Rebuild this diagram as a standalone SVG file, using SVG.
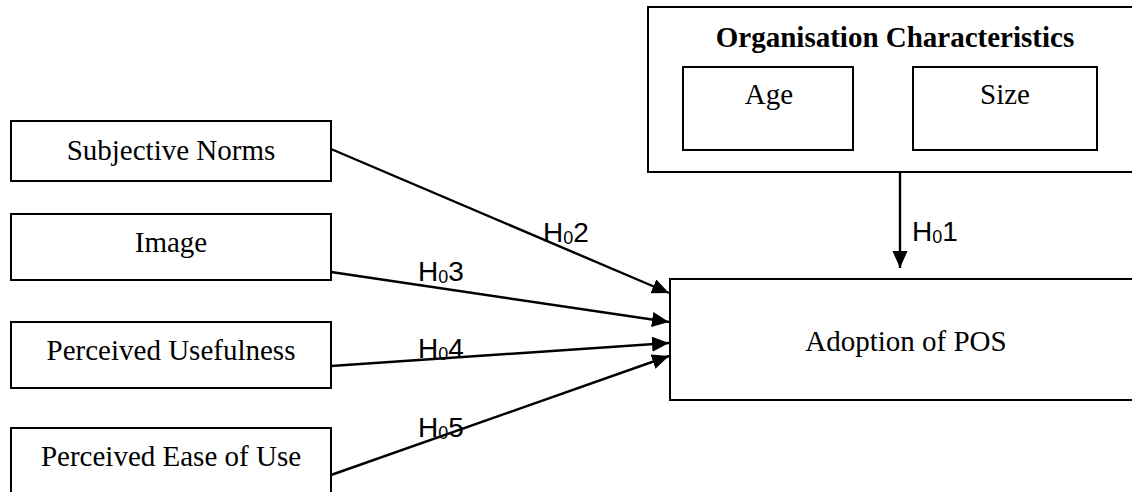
<svg xmlns="http://www.w3.org/2000/svg" width="1132" height="492" viewBox="0 0 1132 492">
<style>
.box{fill:#fff;stroke:#000;stroke-width:2}
.lbl{font-family:"Liberation Serif","Times New Roman",serif;font-size:29px;fill:#000;text-anchor:middle}
.ttl{font-weight:bold}
.conn{stroke:#000;stroke-width:2.4;fill:none}
.h{font-family:"Liberation Sans",Arial,sans-serif;font-size:28px;fill:#000}
.sub{font-size:18px}
</style>
<defs>
<marker id="arr" markerUnits="userSpaceOnUse" markerWidth="19" markerHeight="17" refX="17" refY="7.5" orient="auto">
<path d="M0,0 L17,7.5 L0,15 z" fill="#000"/>
</marker>
</defs>
<g id="org">
<rect class="box" x="648" y="7" width="500" height="165"/>
<text class="lbl ttl" x="895" y="47">Organisation Characteristics</text>
<g id="age">
<rect class="box" x="683" y="67" width="170" height="83"/>
<text class="lbl" x="769" y="104">Age</text>
</g>
<g id="size">
<rect class="box" x="913" y="67" width="184" height="83"/>
<text class="lbl" x="1005" y="104">Size</text>
</g>
</g>
<g id="subjective">
<rect class="box" x="11" y="121" width="320" height="60"/>
<text class="lbl" x="171" y="160">Subjective Norms</text>
</g>
<g id="image">
<rect class="box" x="11" y="214" width="320" height="66"/>
<text class="lbl" x="171" y="252">Image</text>
</g>
<g id="usefulness">
<rect class="box" x="11" y="322" width="320" height="66"/>
<text class="lbl" x="171" y="360">Perceived Usefulness</text>
</g>
<g id="ease">
<rect class="box" x="11" y="428" width="320" height="80"/>
<text class="lbl" x="171" y="466">Perceived Ease of Use</text>
</g>
<g id="adoption">
<rect class="box" x="670" y="279" width="480" height="121"/>
<text class="lbl" x="906" y="351">Adoption of POS</text>
</g>
<g id="connectors">
<line class="conn" x1="900" y1="173" x2="900" y2="268" marker-end="url(#arr)"/>
<line class="conn" x1="331" y1="149" x2="669" y2="293" marker-end="url(#arr)"/>
<line class="conn" x1="331" y1="272" x2="669" y2="322" marker-end="url(#arr)"/>
<line class="conn" x1="331" y1="366" x2="669" y2="343" marker-end="url(#arr)"/>
<line class="conn" x1="331" y1="475" x2="669" y2="356" marker-end="url(#arr)"/>
<text class="h" x="912" y="241">H<tspan class="sub" dy="2">0</tspan><tspan dy="-2">1</tspan></text>
<text class="h" x="543" y="242">H<tspan class="sub" dy="2">0</tspan><tspan dy="-2">2</tspan></text>
<text class="h" x="418" y="281">H<tspan class="sub" dy="2">0</tspan><tspan dy="-2">3</tspan></text>
<text class="h" x="418" y="358">H<tspan class="sub" dy="2">0</tspan><tspan dy="-2">4</tspan></text>
<text class="h" x="418" y="437">H<tspan class="sub" dy="2">0</tspan><tspan dy="-2">5</tspan></text>
</g>
</svg>
